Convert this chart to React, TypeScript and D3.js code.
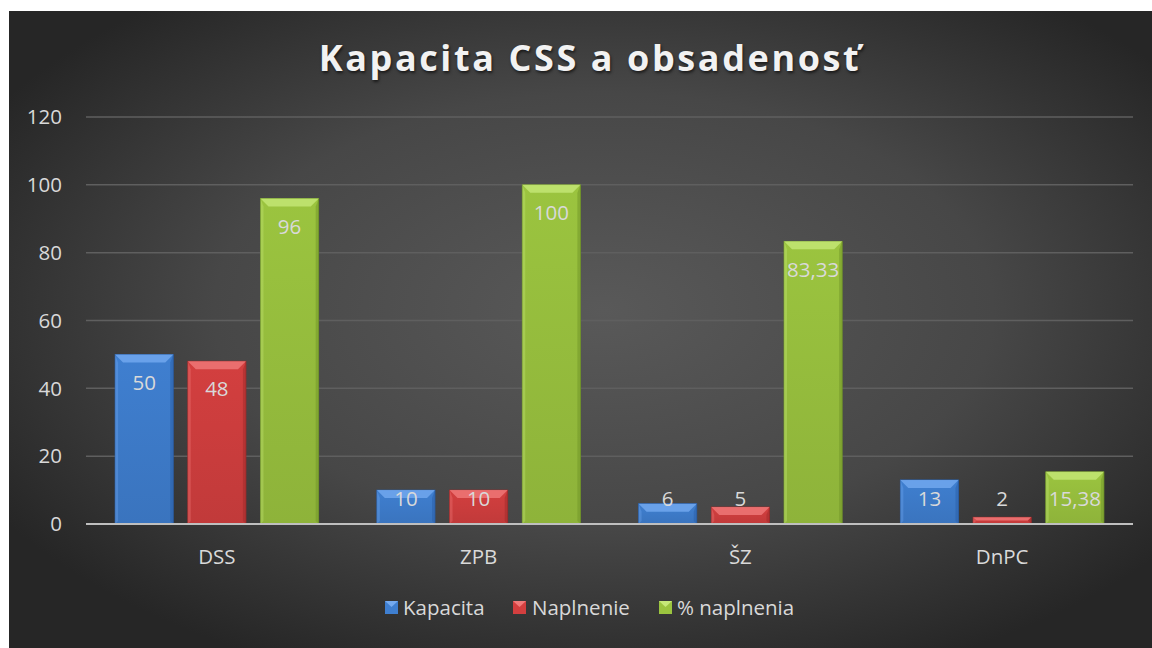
import React from "react";
import * as d3 from "d3";

const categories = ["DSS", "ZPB", "ŠZ", "DnPC"];
const seriesNames = ["Kapacita", "Naplnenie", "% naplnenia"];
const kapacita = [50, 10, 6, 13];
const naplnenie = [48, 10, 5, 2];
const percent = [96, 100, 83.33, 15.38];
const yTicks = [0, 20, 40, 60, 80, 100, 120];
const colors = ["#3f7fd0", "#d33f3f", "#9bc43f"];
const lightColors = ["#74aaf0", "#f07a7a", "#c6e878"];
const darkColors = ["#2a5ea6", "#9e2a2a", "#6f9428"];

const W = 1152;
const H = 648;

export default function App() {
  const series = [kapacita, naplnenie, percent];
  const plotL = 86, plotR = 1133;
  const y = d3.scaleLinear().domain([0, 120]).range([524, 117]);
  const x0 = d3.scaleBand().domain(categories).range([plotL, plotR]).paddingInner(0).paddingOuter(0);
  const cw = x0.bandwidth();
  const bw = cw / 4.5;
  const gap = bw * 0.25;
  const font = "'Open Sans', sans-serif";
  const fs = 20.5;
  const fmt = (v: number) => (Number.isInteger(v) ? String(v) : v.toFixed(2).replace(".", ","));

  const bars: any[] = [];
  categories.forEach((c, ci) => {
    const gx = (x0(c) as number) + cw / 2 - (3 * bw + 2 * gap) / 2;
    series.forEach((s, si) => {
      const v = s[ci];
      const bx = gx + si * (bw + gap);
      const top = y(v);
      const h = y(0) - top;
      const bev = Math.min(8, h / 2);
      const side = Math.min(3, bw / 2);
      bars.push(
        <g key={c + si}>
          <rect x={bx} y={top} width={bw} height={h} fill={`url(#g${si})`} stroke={darkColors[si]} strokeWidth={0.8} />
          <polygon
            points={`${bx},${top} ${bx + bw},${top} ${bx + bw - bev},${top + bev} ${bx + bev},${top + bev}`}
            fill={lightColors[si]}
            opacity={0.8}
          />
          <polygon
            points={`${bx},${top} ${bx + side},${top + bev} ${bx + side},${top + h - side} ${bx},${top + h}`}
            fill={lightColors[si]}
            opacity={0.35}
          />
          <polygon
            points={`${bx + bw},${top} ${bx + bw - side},${top + bev} ${bx + bw - side},${top + h - side} ${bx + bw},${top + h}`}
            fill={darkColors[si]}
            opacity={0.5}
          />
          <text
            x={bx + bw / 2}
            y={Math.min(top + 28, y(0) - 25)}
            dy="0.35em"
            textAnchor="middle"
            fontFamily={font}
            fontSize={fs}
            fill="#d9d9d9"
          >
            {fmt(v)}
          </text>
        </g>
      );
    });
  });

  const legendItems = [
    { x: 385, tx: 403 },
    { x: 513, tx: 532 },
    { x: 659, tx: 677 },
  ];

  return (
    <svg width={W} height={H} style={{ position: "absolute", left: 0, top: 0 }}>
      <defs>
        <radialGradient id="bg" cx="0.52" cy="0.47" r="0.62" gradientUnits="objectBoundingBox">
          <stop offset="0" stopColor="#595959" />
          <stop offset="0.55" stopColor="#474747" />
          <stop offset="1" stopColor="#262626" />
        </radialGradient>
        {colors.map((c, i) => (
          <linearGradient key={i} id={`g${i}`} x1="0" y1="0" x2="0" y2="1">
            <stop offset="0" stopColor={c} />
            <stop offset="1" stopColor={d3.color(c)!.darker(0.25).toString()} />
          </linearGradient>
        ))}
      </defs>
      <rect x={0} y={0} width={W} height={H} fill="#ffffff" />
      <rect x={9} y={11} width={W - 9} height={H - 11} fill="url(#bg)" />
      <text
        x={590}
        y={58}
        dy="0.35em"
        textAnchor="middle"
        fontFamily={font}
        fontWeight={700}
        fontSize={36}
        letterSpacing={2.6}
        fill="#f2f2f2"
        style={{ textShadow: "1px 2px 3px rgba(0,0,0,0.6)" }}
      >
        Kapacita CSS a obsadenosť
      </text>
      {yTicks.map((t) => (
        <g key={t}>
          {t > 0 && <line x1={plotL} x2={plotR} y1={y(t)} y2={y(t)} stroke="#5f5f5f" strokeWidth={1.5} />}
          <text x={62} y={y(t)} dy="0.35em" textAnchor="end" fontFamily={font} fontSize={fs} fill="#d9d9d9">
            {t}
          </text>
        </g>
      ))}
      {bars}
      <line x1={plotL} x2={plotR} y1={y(0)} y2={y(0)} stroke="#bfbfbf" strokeWidth={2} />
      {categories.map((c) => (
        <text
          key={c}
          x={(x0(c) as number) + cw / 2}
          y={557}
          dy="0.35em"
          textAnchor="middle"
          fontFamily={font}
          fontSize={fs}
          fill="#d9d9d9"
        >
          {c}
        </text>
      ))}
      {seriesNames.map((n, i) => (
        <g key={n}>
          <rect x={legendItems[i].x} y={601} width={13} height={13} fill={colors[i]} />
          <polygon
            points={`${legendItems[i].x},601 ${legendItems[i].x + 13},601 ${legendItems[i].x + 6.5},607`}
            fill={lightColors[i]}
          />
          <text x={legendItems[i].tx} y={608} dy="0.35em" fontFamily={font} fontSize={fs} fill="#d9d9d9">
            {n}
          </text>
        </g>
      ))}
    </svg>
  );
}
